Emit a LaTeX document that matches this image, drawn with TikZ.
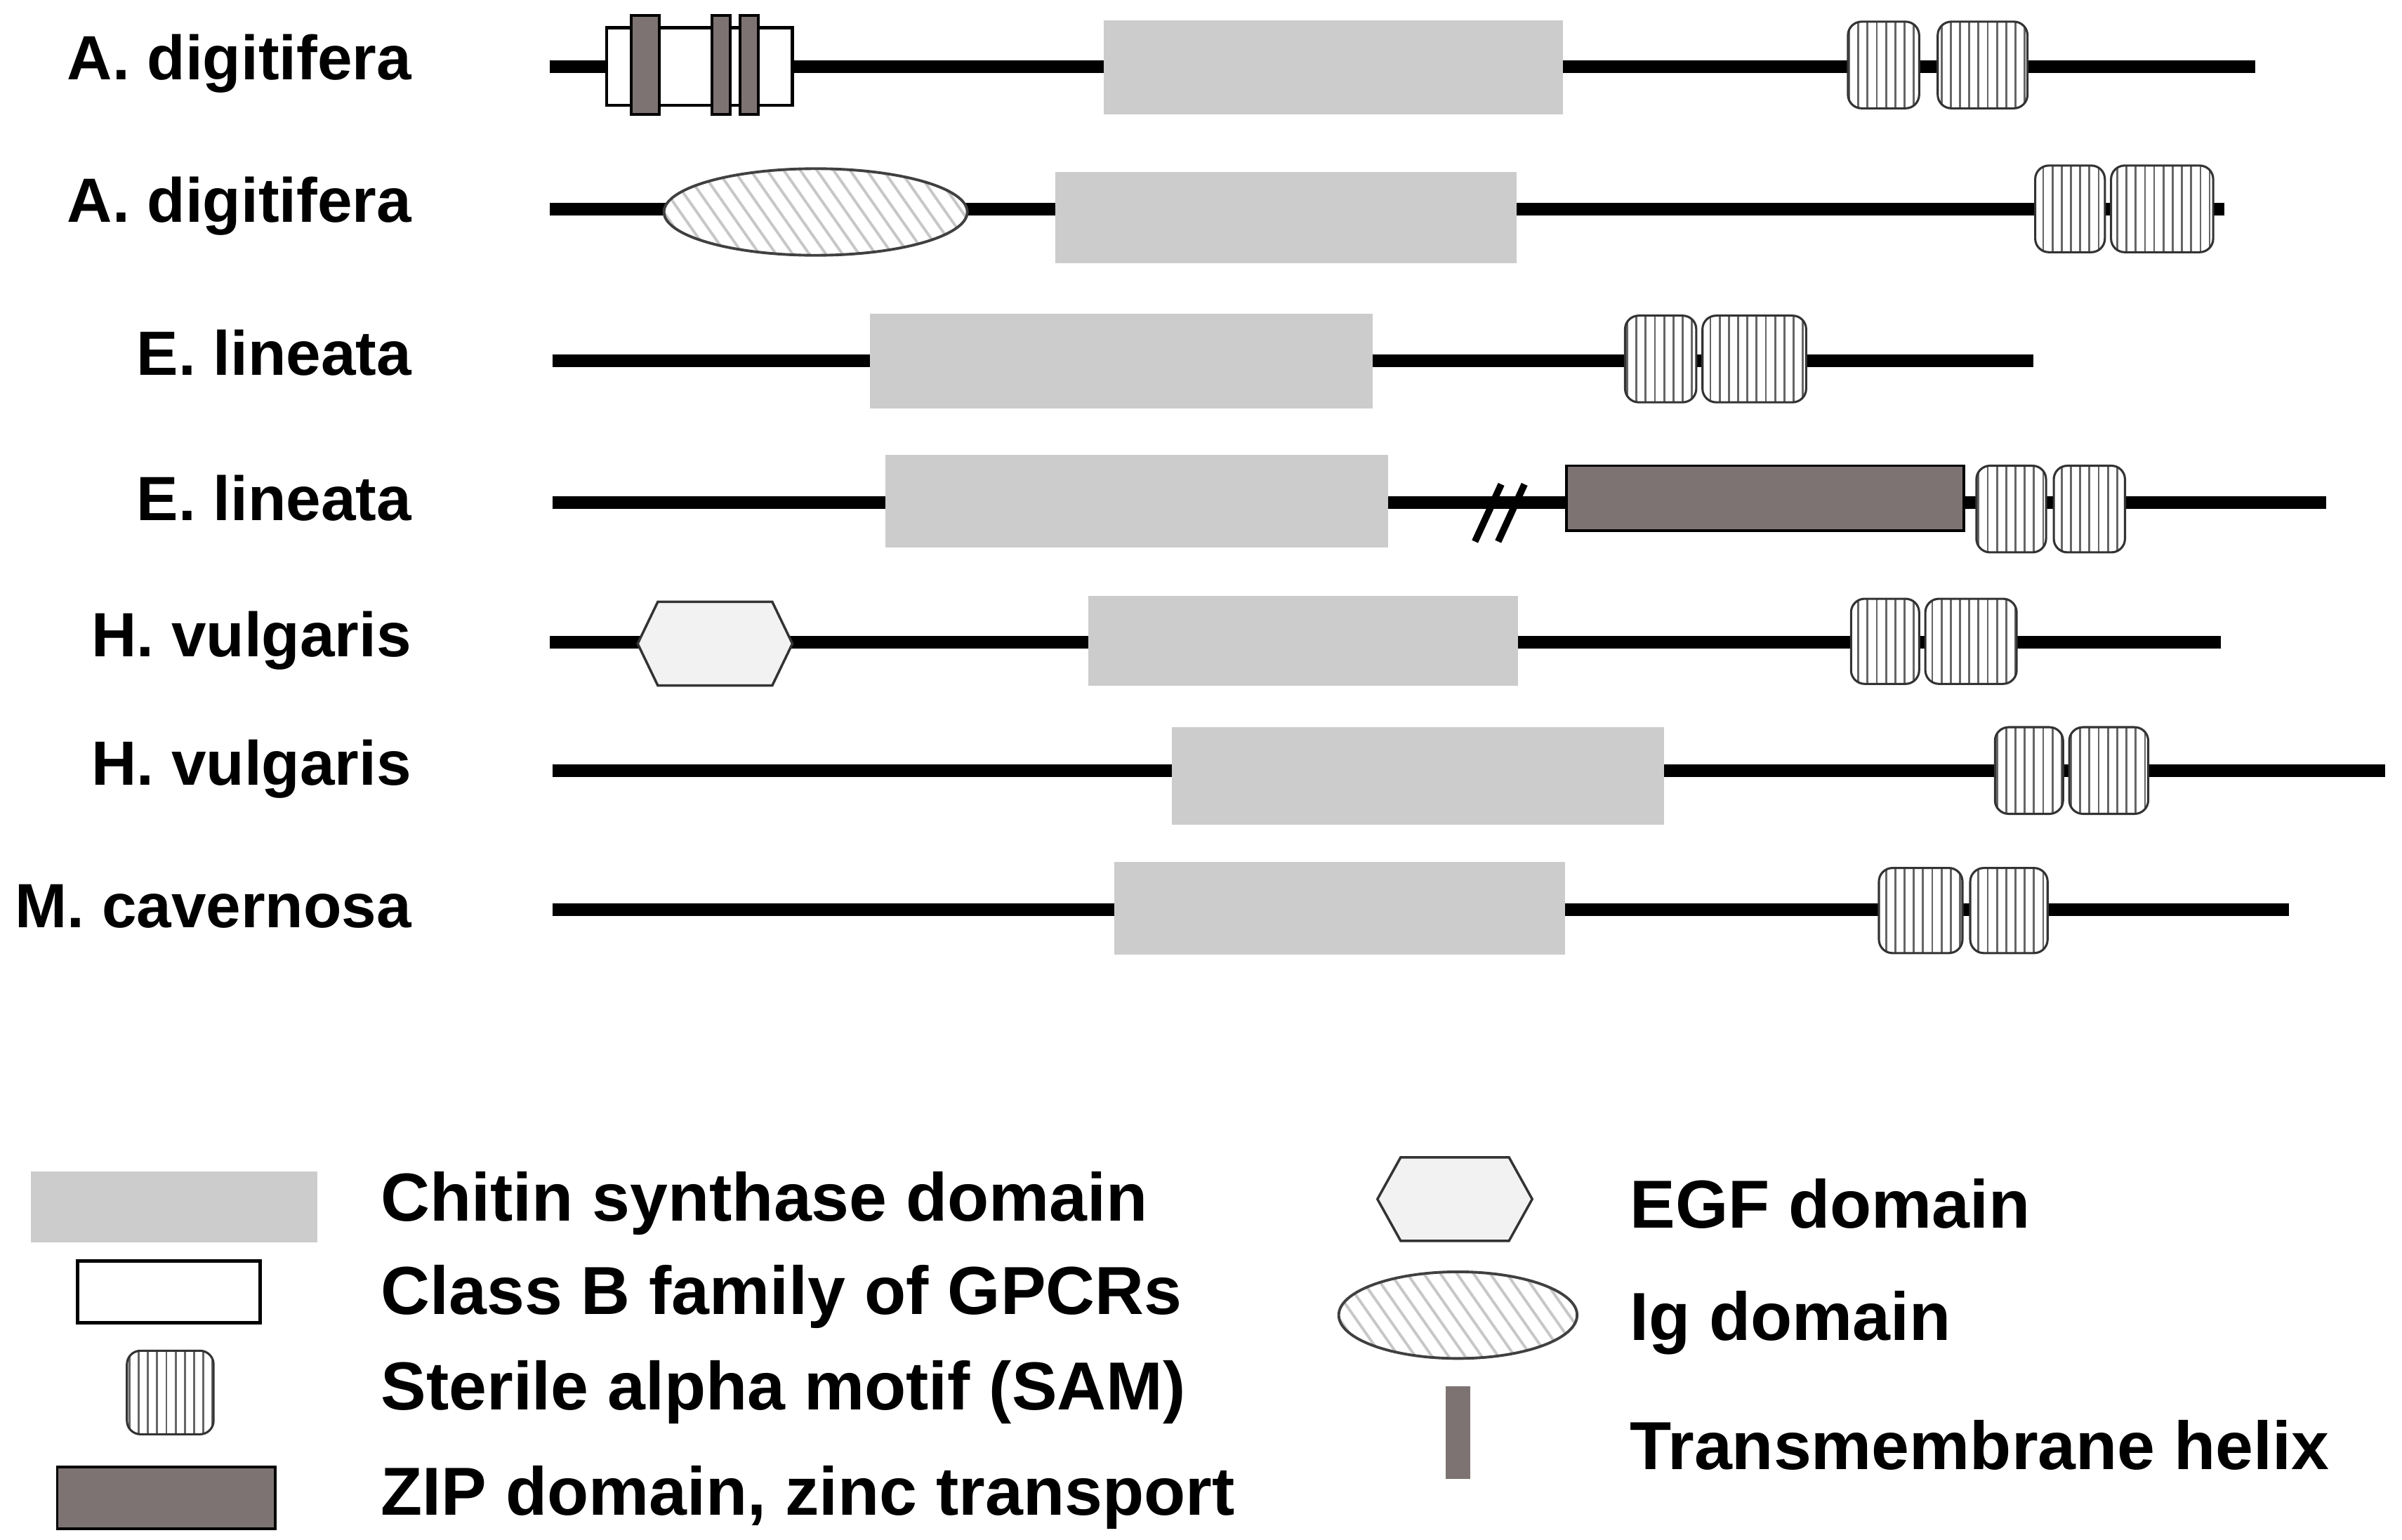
\documentclass[tikz,border=0pt]{standalone}
\usepackage{fontspec}
\setmainfont{Liberation Sans}
\usetikzlibrary{patterns.meta}
\tikzset{
  backbone/.style={line width=4.6pt},
  chitin/.style={fill=black!20, draw=none},
  gpcr/.style={fill=white, draw=black, line width=1.2pt},
  tm/.style={fill=black!55!red!10!gray, draw=black, line width=1pt},
  zip/.style={fill=black!55!red!10!gray, draw=black, line width=1pt},
  sam/.style={preaction={fill=white}, pattern={Lines[angle=90, distance=3.4pt, line width=0.7pt]}, pattern color=black!60, draw=black!80, line width=0.8pt, rounded corners=5pt},
  ig/.style={preaction={fill=white}, pattern={Lines[angle=-55, distance=5pt, line width=1pt]}, pattern color=black!22, draw=black!75, line width=1pt},
  egf/.style={fill=black!5, draw=black!80, line width=0.9pt},
  species/.style={anchor=east, font=\bfseries\fontsize{23}{26}\selectfont},
  legtext/.style={anchor=west, font=\bfseries\fontsize{25}{28}\selectfont}
}
\newcommand{\samdom}[4]{\draw[sam] (#1,#3) rectangle (#2,#4);}
\begin{document}
\begin{tikzpicture}[x=0.02cm, y=-0.02cm]
  \useasboundingbox (0,0) rectangle (1552,995);

  % Species labels
  \foreach \yy/\name in {41/A. digitifera, 133/A. digitifera, 228/E. lineata, 322/E. lineata, 414/H. vulgaris, 497/H. vulgaris, 586/M. cavernosa}
    \node[species] at (272,\yy) {\name};

  % Row 1
  \coordinate (r1a) at (355,43); \coordinate (r1b) at (1457,43);
  \draw[backbone] (r1a) -- (r1b);
  \draw[gpcr] (392,18) rectangle (512,68);
  \foreach \xa/\xb in {408/426, 460/472, 478/490} \draw[tm] (\xa,10) rectangle (\xb,74);
  \fill[chitin] (713,13) rectangle (1010,74);
  \samdom{1194}{1240}{14}{70} \samdom{1252}{1310}{14}{70}

  % Row 2
  \coordinate (r2a) at (355,135); \coordinate (r2b) at (1437,135);
  \draw[backbone] (r2a) -- (r2b);
  \draw[ig] (527,137) ellipse (98 and 28);
  \fill[chitin] (682,111) rectangle (980,170);
  \samdom{1315}{1360}{107}{163} \samdom{1364}{1430}{107}{163}

  % Row 3
  \coordinate (r3a) at (357,233); \coordinate (r3b) at (1314,233);
  \draw[backbone] (r3a) -- (r3b);
  \fill[chitin] (562,203) rectangle (887,264);
  \samdom{1050}{1096}{204}{260} \samdom{1100}{1167}{204}{260}

  % Row 4
  \coordinate (r4a) at (357,325); \coordinate (r4b) at (1503,325);
  \draw[backbone] (r4a) -- (r4b);
  \fill[chitin] (572,294) rectangle (897,354);
  \draw[line width=2.5pt] (953,350) -- (970,313) (968,350) -- (985,313);
  \draw[zip] (1012,301) rectangle (1269,343);
  \samdom{1277}{1322}{301}{357} \samdom{1327}{1373}{301}{357}

  % Row 5
  \coordinate (r5a) at (355,415); \coordinate (r5b) at (1435,415);
  \draw[backbone] (r5a) -- (r5b);
  \draw[egf] (412,416) -- (425,389) -- (499,389) -- (512,416) -- (499,443) -- (425,443) -- cycle;
  \fill[chitin] (703,385) rectangle (981,443);
  \samdom{1196}{1240}{387}{442} \samdom{1244}{1303}{387}{442}

  % Row 6
  \coordinate (r6a) at (357,498); \coordinate (r6b) at (1541,498);
  \draw[backbone] (r6a) -- (r6b);
  \fill[chitin] (757,470) rectangle (1075,533);
  \samdom{1289}{1333}{470}{526} \samdom{1337}{1388}{470}{526}

  % Row 7
  \coordinate (r7a) at (357,588); \coordinate (r7b) at (1479,588);
  \draw[backbone] (r7a) -- (r7b);
  \fill[chitin] (720,557) rectangle (1011,617);
  \samdom{1214}{1268}{561}{616} \samdom{1273}{1323}{561}{616}

  % Legend
  \fill[chitin] (20,757) rectangle (205,803);
  \node[legtext] at (240,778) {Chitin synthase domain};
  \draw[gpcr] (50,815) rectangle (168,855);
  \node[legtext] at (240,838) {Class B family of GPCRs};
  \samdom{82}{138}{873}{927}
  \node[legtext] at (240,900) {Sterile alpha motif (SAM)};
  \draw[zip] (37,948) rectangle (178,988);
  \node[legtext] at (240,968) {ZIP domain, zinc transport};
  \draw[egf] (890,775) -- (905,748) -- (975,748) -- (990,775) -- (975,802) -- (905,802) -- cycle;
  \node[legtext] at (1047,778) {EGF domain};
  \draw[ig] (942,850) ellipse (77 and 28);
  \node[legtext] at (1047,855) {Ig domain};
  \fill[black!55!red!10!gray] (934,896) rectangle (950,956);
  \node[legtext] at (1047,934) {Transmembrane helix};
\end{tikzpicture}
\end{document}
